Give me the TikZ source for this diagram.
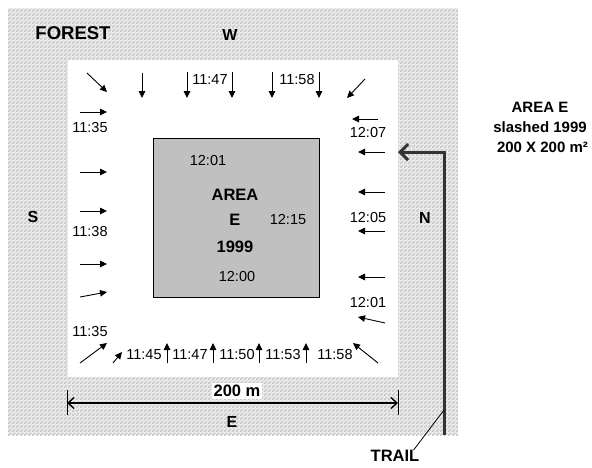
\documentclass[tikz,border=0pt]{standalone}
\usepackage{fontspec}
\setmainfont{Liberation Sans}
\usetikzlibrary{arrows.meta,patterns}
\definecolor{forestlt}{HTML}{EBEBEB}
\definecolor{forestdk}{HTML}{C4C4C4}
\definecolor{areagray}{HTML}{C0C0C0}
\definecolor{trailc}{HTML}{333333}
\pgfdeclarepatternformonly{checks}{\pgfpointorigin}{\pgfqpoint{4pt}{4pt}}{\pgfqpoint{4pt}{4pt}}{%
  \pgfpathrectangle{\pgfpointorigin}{\pgfqpoint{2pt}{2pt}}%
  \pgfpathrectangle{\pgfqpoint{2pt}{2pt}}{\pgfqpoint{2pt}{2pt}}%
  \pgfusepath{fill}}
\begin{document}
\begin{tikzpicture}[x=1pt,y=-1pt,
  tm/.style={font=\fontsize{14.5}{16}\selectfont, inner sep=0pt},
  lb/.style={font=\fontsize{16}{18}\selectfont\bfseries, inner sep=0pt},
  sarrow/.style={line width=0.9pt, -{Triangle[length=7pt,width=6.5pt]}},
  dimarrow/.style={line width=1.4pt, {Straight Barb[length=6pt,width=11pt]}-{Straight Barb[length=6pt,width=11pt]}},
  trailarrow/.style={line width=3pt, color=trailc, -{Straight Barb[length=8pt,width=16pt]}}]
\useasboundingbox (0,0) rectangle (592,467);
% forest
\fill[forestlt] (8,8) rectangle (458,435);
\fill[pattern=checks, pattern color=forestdk] (8,8) rectangle (458,435);
% clearing
\fill[white] (68,60) rectangle (398,377);
% area box
\node[draw=black, fill=areagray, line width=0.8pt, minimum width=166pt, minimum height=159pt, inner sep=0pt, anchor=north west] (area) at (153,138) {};
% labels
\node[lb, font=\fontsize{18.5}{20}\selectfont\bfseries] (forest) at (73,33) {FOREST};
\node[lb] (w) at (230,35) {W};
\node[lb] (s) at (33,217) {S};
\node[lb] (n) at (425,218) {N};
\node[lb] (e) at (232,422) {E};
\node[lb, font=\fontsize{16.5}{18}\selectfont\bfseries, fill=white, inner sep=2pt] (dim) at (237,391) {200 m};
\node[lb, font=\fontsize{16.5}{18}\selectfont\bfseries] (trail) at (395,456) {TRAIL};
\node[lb, font=\fontsize{15}{20}\selectfont\bfseries, align=center] (legend) at (540,127) {AREA E\\slashed 1999\\\hspace*{5pt}200 X 200 m²};
% inner texts
\node[tm] (i1) at (208,161) {12:01};
\node[lb, font=\fontsize{16.5}{18}\selectfont\bfseries] (a1) at (235,195) {AREA};
\node[lb, font=\fontsize{16.5}{18}\selectfont\bfseries] (a2) at (235,220) {E};
\node[lb, font=\fontsize{16.5}{18}\selectfont\bfseries] (a3) at (235,247) {1999};
\node[tm] (i2) at (288,220) {12:15};
\node[tm] (i3) at (237,277) {12:00};
% times
\node[tm] (t1) at (210,80) {11:47};
\node[tm] (t2) at (297,80) {11:58};
\node[tm] (l1) at (90,128) {11:35};
\node[tm] (l2) at (90,232) {11:38};
\node[tm] (l3) at (90,331) {11:35};
\node[tm] (b1) at (144,355) {11:45};
\node[tm] (b2) at (190,355) {11:47};
\node[tm] (b3) at (237,355) {11:50};
\node[tm] (b4) at (283,355) {11:53};
\node[tm] (b5) at (335,355) {11:58};
\node[tm] (r1) at (368,133) {12:07};
\node[tm] (r2) at (368,218) {12:05};
\node[tm] (r3) at (368,303) {12:01};
% small arrows: top
\draw[sarrow] (87,73) -- (107,92);
\draw[sarrow] (142,73) -- (142,98);
\draw[sarrow] (187,72) -- (187,98);
\draw[sarrow] (232,72) -- (232,98);
\draw[sarrow] (272,72) -- (272,98);
\draw[sarrow] (319,72) -- (319,98);
\draw[sarrow] (365,79) -- (347,98);
% left
\draw[sarrow] (80,112) -- (107,112);
\draw[sarrow] (80,172) -- (107,172);
\draw[sarrow] (80,211) -- (107,211);
\draw[sarrow] (80,264) -- (107,264);
\draw[sarrow] (80,297) -- (107,292);
\draw[sarrow] (80,363) -- (107,343);
% bottom
\draw[sarrow] (113,363) -- (122,352);
\draw[sarrow] (167,363) -- (167,343);
\draw[sarrow] (213,363) -- (213,343);
\draw[sarrow] (259,363) -- (259,343);
\draw[sarrow] (306,363) -- (306,343);
\draw[sarrow] (378,363) -- (353,343);
% right
\draw[sarrow] (378,119) -- (352,119);
\draw[sarrow] (385,152) -- (358,152);
\draw[sarrow] (385,192) -- (358,192);
\draw[sarrow] (385,231) -- (358,231);
\draw[sarrow] (385,277) -- (358,277);
\draw[sarrow] (385,323) -- (358,317);
% dimension
\coordinate (d1) at (67,403);
\coordinate (d2) at (398,403);
\draw[line width=0.8pt] (67,390) -- (67,415);
\draw[line width=0.8pt] (398,390) -- (398,415);
\draw[dimarrow] (d1) -- (d2);
% trail
\coordinate (tr0) at (444,435);
\coordinate (tr1) at (398,152);
\draw[trailarrow] (tr0) |- (tr1);
\coordinate (trk) at (444,410);
\draw[line width=0.8pt] (trail.north east) ++(-6pt,0) -- (trk);
\end{tikzpicture}
\end{document}
